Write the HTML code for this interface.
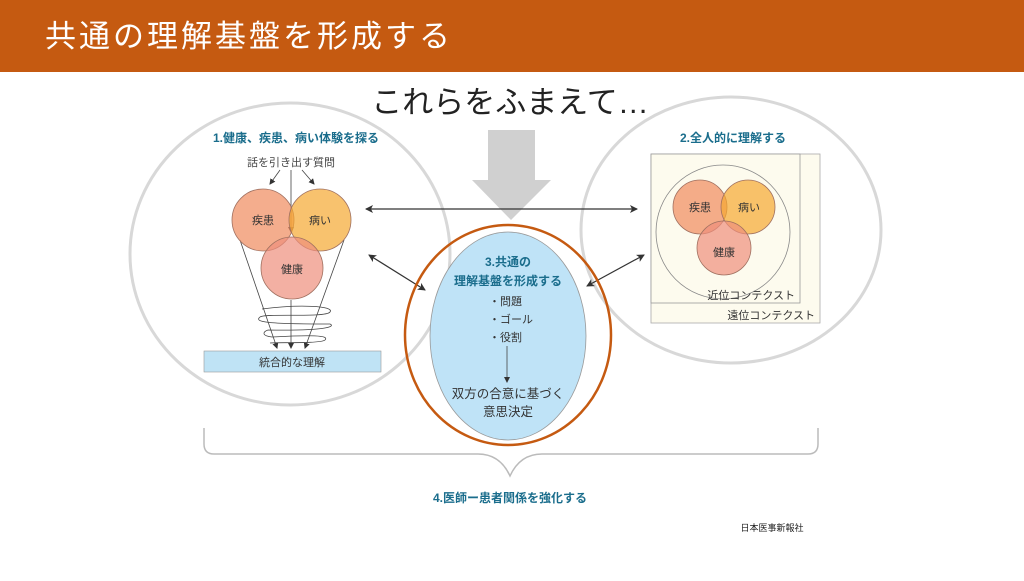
<!DOCTYPE html>
<html><head><meta charset="utf-8"><style>
body{margin:0;width:1024px;height:576px;overflow:hidden;background:#fff;font-family:"Liberation Sans","Noto Sans CJK JP",sans-serif}
</style></head><body>
<svg width="1024" height="576" viewBox="0 0 1024 576" xmlns="http://www.w3.org/2000/svg" font-family="Liberation Sans, Noto Sans CJK JP, sans-serif">
<defs>
<marker id="a" markerWidth="8" markerHeight="8" refX="7" refY="4" orient="auto-start-reverse" markerUnits="userSpaceOnUse"><path d="M0,0 L8,4 L0,8 L2,4 z" fill="#333"/></marker>
<marker id="s" markerWidth="6" markerHeight="6" refX="5" refY="3" orient="auto" markerUnits="userSpaceOnUse"><path d="M0,0 L6,3 L0,6 z" fill="#333"/></marker>
</defs>
<rect x="0" y="0" width="1024" height="72" fill="#C55A11"/>
<text x="45" y="47" font-size="31" fill="#fff" letter-spacing="3">共通の理解基盤を形成する</text>
<text x="510" y="113" font-size="31" fill="#222" text-anchor="middle">これらをふまえて…</text>
<path d="M488,130 H535 V180 H551 L511,220 L472,180 H488 Z" fill="#d0d0d0"/>
<ellipse cx="290" cy="254" rx="160" ry="151" fill="#fff" stroke="#d8d8d8" stroke-width="3"/>
<ellipse cx="731" cy="230" rx="150" ry="133" fill="#fff" stroke="#d8d8d8" stroke-width="3"/>
<text x="296" y="142" font-size="12" fill="#1a6d8c" text-anchor="middle" font-weight="bold">1.健康、疾患、病い体験を探る</text>
<text x="291" y="166" font-size="11" fill="#444" text-anchor="middle">話を引き出す質問</text>
<g stroke="#444" stroke-width="0.8" fill="none">
<line x1="280" y1="170" x2="270" y2="184" marker-end="url(#s)"/>
<line x1="302" y1="170" x2="314" y2="184" marker-end="url(#s)"/>
<line x1="291" y1="170" x2="291" y2="232" marker-end="url(#s)"/>
<line x1="240" y1="240" x2="277" y2="348" marker-end="url(#s)"/>
<line x1="344" y1="240" x2="305" y2="348" marker-end="url(#s)"/>
<line x1="291" y1="300" x2="291" y2="348" marker-end="url(#s)"/>
<path d="M262,309 C300,304 335,306 330,312 C326,318 265,313 260,317 C254,322 265,324 330,324 C335,326 330,331 268,330 C262,332 262,336 272,337 C310,335 330,335 325,340 C320,344 275,342 270,343"/>
</g>
<g fill-opacity="0.7" stroke="#a07060" stroke-width="0.8">
<circle cx="263" cy="220" r="31" fill="#f08a5d"/>
<circle cx="320" cy="220" r="31" fill="#f5a830"/>
<circle cx="292" cy="268" r="31" fill="#ee8e7c"/>
</g>
<text x="263" y="224" font-size="11" fill="#333" text-anchor="middle">疾患</text>
<text x="320" y="224" font-size="11" fill="#333" text-anchor="middle">病い</text>
<text x="292" y="273" font-size="11" fill="#333" text-anchor="middle">健康</text>
<rect x="204" y="351" width="177" height="21" fill="#bfe3f5" stroke="#999" stroke-width="0.6"/>
<text x="292" y="366" font-size="11" fill="#333" text-anchor="middle">統合的な理解</text>
<text x="733" y="142" font-size="12" fill="#1a6d8c" text-anchor="middle" font-weight="bold">2.全人的に理解する</text>
<rect x="651" y="154" width="169" height="169" fill="#fdfbee" stroke="#aaa" stroke-width="0.8"/>
<rect x="651" y="154" width="149" height="149" fill="#fdfbee" stroke="#999" stroke-width="0.8"/>
<circle cx="723" cy="232" r="67" fill="none" stroke="#888" stroke-width="0.8"/>
<g fill-opacity="0.7" stroke="#a07060" stroke-width="0.8">
<circle cx="700" cy="207" r="27" fill="#f08a5d"/>
<circle cx="748" cy="207" r="27" fill="#f5a830"/>
<circle cx="724" cy="248" r="27" fill="#ee8e7c"/>
</g>
<text x="700" y="211" font-size="11" fill="#333" text-anchor="middle">疾患</text>
<text x="749" y="211" font-size="11" fill="#333" text-anchor="middle">病い</text>
<text x="724" y="256" font-size="11" fill="#333" text-anchor="middle">健康</text>
<text x="795" y="299" font-size="11" fill="#333" text-anchor="end">近位コンテクスト</text>
<text x="815" y="319" font-size="11" fill="#333" text-anchor="end">遠位コンテクスト</text>
<g stroke="#333" stroke-width="1.2">
<line x1="366" y1="209" x2="637" y2="209" marker-start="url(#a)" marker-end="url(#a)"/>
<line x1="369" y1="255" x2="425" y2="290" marker-start="url(#a)" marker-end="url(#a)"/>
<line x1="587" y1="286" x2="644" y2="255" marker-start="url(#a)" marker-end="url(#a)"/>
</g>
<ellipse cx="508" cy="336" rx="78" ry="104" fill="#bfe3f7" stroke="#999" stroke-width="0.8"/>
<ellipse cx="508" cy="335" rx="103" ry="110" fill="none" stroke="#C55A11" stroke-width="2.5"/>
<text x="508" y="266" font-size="12" fill="#1a6d8c" text-anchor="middle" font-weight="bold">3.共通の</text>
<text x="508" y="285" font-size="12" fill="#1a6d8c" text-anchor="middle" font-weight="bold">理解基盤を形成する</text>
<text x="489" y="305" font-size="11" fill="#333">・問題</text>
<text x="489" y="323" font-size="11" fill="#333">・ゴール</text>
<text x="489" y="341" font-size="11" fill="#333">・役割</text>
<line x1="507" y1="346" x2="507" y2="382" stroke="#444" stroke-width="0.8" marker-end="url(#s)"/>
<text x="508" y="398" font-size="12.5" fill="#333" text-anchor="middle">双方の合意に基づく</text>
<text x="508" y="416" font-size="12.5" fill="#333" text-anchor="middle">意思決定</text>
<path d="M204,428 V444 Q204,454 214,454 H478 Q500,454 510,476 Q520,454 542,454 H808 Q818,454 818,444 V428" fill="none" stroke="#bbb" stroke-width="1.5"/>
<text x="510" y="502" font-size="12" fill="#1a6d8c" text-anchor="middle" font-weight="bold">4.医師ー患者関係を強化する</text>
<text x="772" y="531" font-size="9" fill="#222" text-anchor="middle">日本医事新報社</text>
</svg>
</body></html>
